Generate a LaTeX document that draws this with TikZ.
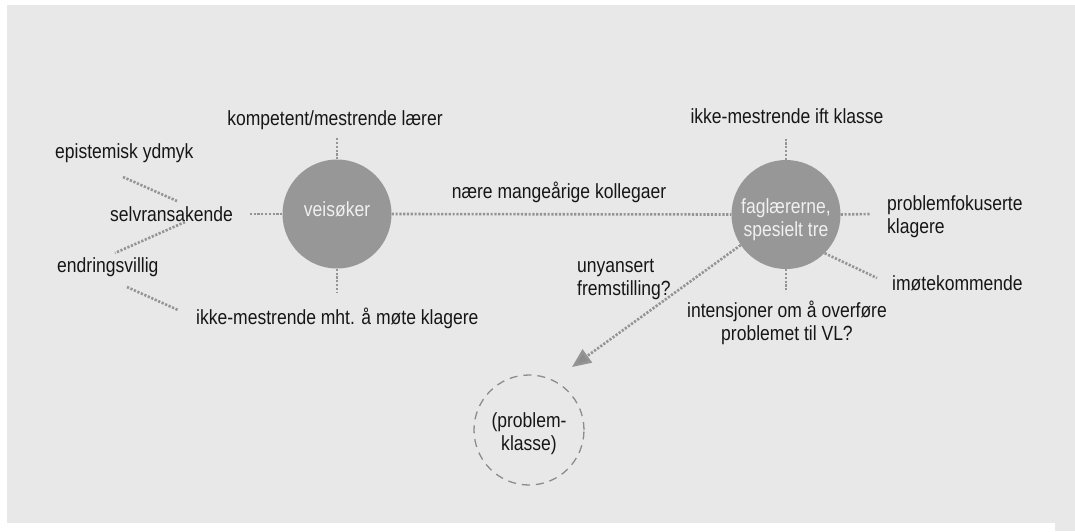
\documentclass[tikz,border=0pt]{standalone}
\usepackage{fontspec}
\setmainfont{Liberation Sans}[FakeStretch=0.855]
\usetikzlibrary{arrows.meta}
\definecolor{bgc}{HTML}{E8E8E8}
\definecolor{hubc}{HTML}{979797}
\definecolor{dotc}{HTML}{949494}
\definecolor{txtc}{HTML}{161616}
\definecolor{ringc}{HTML}{8C8C8C}
\tikzset{
  hub/.style={circle, fill=hubc, minimum size=109pt, inner sep=0pt},
  ring/.style={circle, draw=ringc, line width=1.3pt, dash pattern=on 8pt off 6pt, minimum size=110pt, inner sep=0pt},
  lbl/.style={inner sep=0pt, text=txtc, anchor=base},
  lblw/.style={lbl, anchor=base west},
  hubtxt/.style={inner sep=0pt, text=white!94!black, anchor=base, align=center},
  dotline/.style={draw=dotc, line width=2.6pt, dash pattern=on 2.2pt off 1.6pt},
  arrowline/.style={dotline, -{Triangle[length=19pt,width=16pt,fill=ringc]}}
}
\begin{document}
\begin{tikzpicture}[x=1pt, y=-1pt, font=\fontsize{20.5}{23}\selectfont]
\useasboundingbox (0,0) rectangle (1075,531);
% backdrop
\fill[bgc] (7,5) rectangle (1075,523);
\fill[bgc] (1055,523) rectangle (1075,531);

% the two hubs (multi-line nodes are placed by the baseline of their last line)
\node[hub] (v) at (337,214) {};
\node[hub] (f) at (786,214.5) {};
\node[hubtxt] (vt) at (337,216) {veisøker};
\node[hubtxt] (ft) at (786,236) {faglærerne,\\spesielt tre};

% dashed target circle
\node[ring] (pc) at (529,430) {};
\node[lbl, align=center] (pct) at (529,450) {(problem-\\klasse)};

% labels around veisøker
\node[lbl] (komp) at (335,125) {kompetent/mestrende lærer};
\node[lblw] (epi) at (55,158) {epistemisk ydmyk};
\node[lblw] (selv) at (110,221) {selvransakende};
\node[lblw] (endr) at (57,272) {endringsvillig};
\node[lblw] (ikkem) at (196,324) {ikke-mestrende mht. å møte klagere};
\node[lbl] (naere) at (559,198) {nære mangeårige kollegaer};

% labels around faglærerne
\node[lbl] (ikkek) at (787,123) {ikke-mestrende ift klasse};
\node[lblw, align=left] (probf) at (887,233) {problemfokuserte\\klagere};
\node[lblw] (imot) at (892,290) {imøtekommende};
\node[lbl, align=center] (inten) at (787,340) {intensjoner om å overføre\\problemet til VL?};
\node[lblw, align=left] (unyan) at (577,295) {unyansert\\fremstilling?};

% free ends of the spokes
\coordinate (vN) at (337,138);
\coordinate (vS) at (337,293);
\coordinate (vW) at (250,214);
\coordinate (fN) at (786,138);
\coordinate (fS) at (786,292);
\coordinate (fE) at (870,214);
\coordinate (fSE) at (877,278);
\coordinate (tip) at (572,367);
\coordinate (d1a) at (123,177);
\coordinate (d1b) at (177,201);
\coordinate (d2a) at (185,222);
\coordinate (d2b) at (115,253);
\coordinate (d3a) at (127,287);
\coordinate (d3b) at (178,310);

% spokes
\draw[dotline] (v.north) -- (vN);
\draw[dotline] (v.south) -- (vS);
\draw[dotline] (v.west) -- (vW);
\draw[dotline] (v.east) -- (f.west);
\draw[dotline] (f.north) -- (fN);
\draw[dotline] (f.south) -- (fS);
\draw[dotline] (f.east) -- (fE);
\draw[dotline] (f.-45) -- (fSE);
\draw[dotline] (d1a) -- (d1b);
\draw[dotline] (d2a) -- (d2b);
\draw[dotline] (d3a) -- (d3b);
\draw[arrowline] (f.214) -- (tip);
\end{tikzpicture}
\end{document}
